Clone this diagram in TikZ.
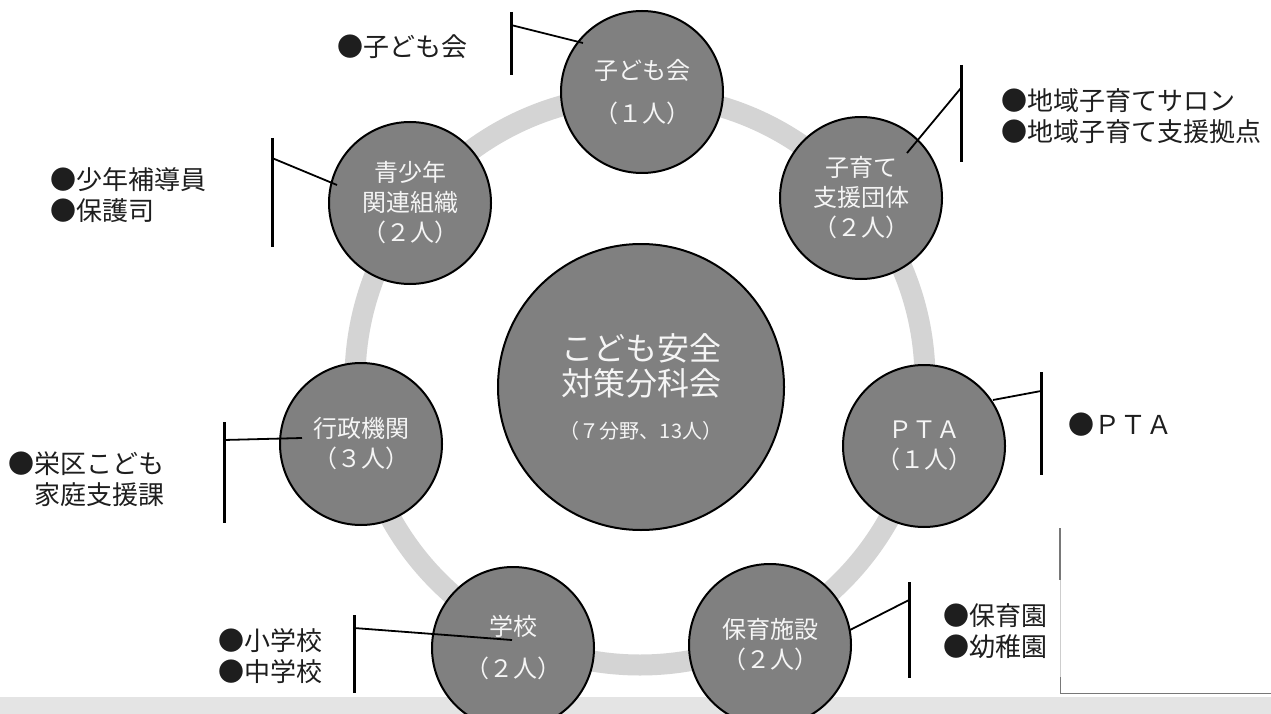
\documentclass[tikz,border=0pt]{standalone}
\usepackage{fontspec}
\newfontfamily\jp{Noto Sans CJK JP}
\definecolor{circgray}{RGB}{128,128,128}
\definecolor{ringgray}{RGB}{212,212,212}
\definecolor{bandgray}{RGB}{228,228,228}
\definecolor{intext}{RGB}{245,245,245}
\definecolor{outtext}{RGB}{30,30,30}
\definecolor{boxline}{RGB}{120,120,120}
\definecolor{boxfaint}{RGB}{205,205,205}
\begin{document}
\begin{tikzpicture}[x=1pt,y=-1pt,
  ringband/.style={draw=ringgray, line width=21pt},
  org/.style={circle, draw=black, line width=2pt, fill=circgray, minimum size=162pt,
    inner sep=0pt, text=intext, align=center, font=\jp\fontsize{24}{30}\selectfont},
  hub/.style={org, minimum size=286pt, font=\jp\fontsize{32}{35}\selectfont},
  calloutbar/.style={line width=3pt, draw=black},
  leadline/.style={line width=1.8pt, draw=black},
  note/.style={anchor=west, inner sep=0pt, align=left, text=outtext,
    font=\jp\fontsize{26}{31}\selectfont}
]
\useasboundingbox (0,0) rectangle (1271,714);
\fill[white] (0,0) rectangle (1271,714);
\fill[bandgray] (0,697) rectangle (1271,714);

% ring
\draw[ringband] (640,380) circle (285pt);

% circles
\node[hub] (hub) at (641,387) {こども安全\\対策分科会\\[8pt]{\fontsize{20}{24}\selectfont （７分野、13人）}};
\node[org] (kodomokai) at (642,92) {子ども会\\[13pt]（１人）};
\node[org] (kosodate) at (861,198) {\fontsize{24}{29}\selectfont 子育て\\支援団体\\（２人）};
\node[org] (seishonen) at (410,203) {\fontsize{24}{32}\selectfont 青少年\\関連組織\\（２人）};
\node[org] (gyosei) at (361,444) {行政機関\\（３人）};
\node[org] (pta) at (924,446) {\fontsize{24}{27}\selectfont ＰＴＡ\\（１人）};
\node[org] (gakko) at (513,648) {学校\\[12pt]（２人）};
\node[org] (hoiku) at (770,645) {\fontsize{24}{28}\selectfont 保育施設\\（２人）};

% callout coordinates
\coordinate (b1t) at (511,12);  \coordinate (b1b) at (511,75);  \coordinate (b1a) at (511,25);  \coordinate (e1) at (583,43);
\coordinate (b2t) at (961,65);  \coordinate (b2b) at (961,162); \coordinate (b2a) at (961,88);  \coordinate (e2) at (907,153);
\coordinate (b3t) at (272,138); \coordinate (b3b) at (272,247); \coordinate (b3a) at (272,158); \coordinate (e3) at (337,185);
\coordinate (b4t) at (224,422); \coordinate (b4b) at (224,523); \coordinate (b4a) at (224,440); \coordinate (e4) at (302,438);
\coordinate (b5t) at (1041,372);\coordinate (b5b) at (1041,475);\coordinate (b5a) at (1041,391);\coordinate (e5) at (993,400);
\coordinate (b6t) at (354,615); \coordinate (b6b) at (354,693); \coordinate (b6a) at (354,628); \coordinate (e6) at (512,640);
\coordinate (b7t) at (909,582); \coordinate (b7b) at (909,678); \coordinate (b7a) at (909,600); \coordinate (e7) at (850,630);

\foreach \i in {1,...,7}{
  \draw[calloutbar] (b\i t) -- (b\i b);
  \draw[leadline] (b\i a) -- (e\i);
}

% notes
\node[note] (n1) at (337,47) {●子ども会};
\node[note] (n2) at (1001,116) {●地域子育てサロン\\●地域子育て支援拠点};
\node[note] (n3) at (50,195) {●少年補導員\\●保護司};
\node[note] (n4) at (8,479) {\fontsize{26}{32}\selectfont ●栄区こども\\\phantom{●}家庭支援課};
\node[note] (n5) at (1068,425) {●ＰＴＡ};
\node[note] (n6) at (218,656) {\fontsize{26}{33}\selectfont ●小学校\\●中学校};
\node[note] (n7) at (943,631) {\fontsize{26}{32}\selectfont ●保育園\\●幼稚園};

% right box fragment
\coordinate (r1) at (1060,528);
\coordinate (r2) at (1060,580);
\coordinate (r3) at (1060,693);
\coordinate (r4) at (1271,693);
\coordinate (r5) at (1060,677);
\draw[boxfaint, line width=0.8pt] (r1) -- (r3);
\draw[boxline, line width=1.3pt] (r1) -- (r2);
\draw[boxline, line width=1pt] (r5) -- (r3) -- (r4);
\end{tikzpicture}
\end{document}
